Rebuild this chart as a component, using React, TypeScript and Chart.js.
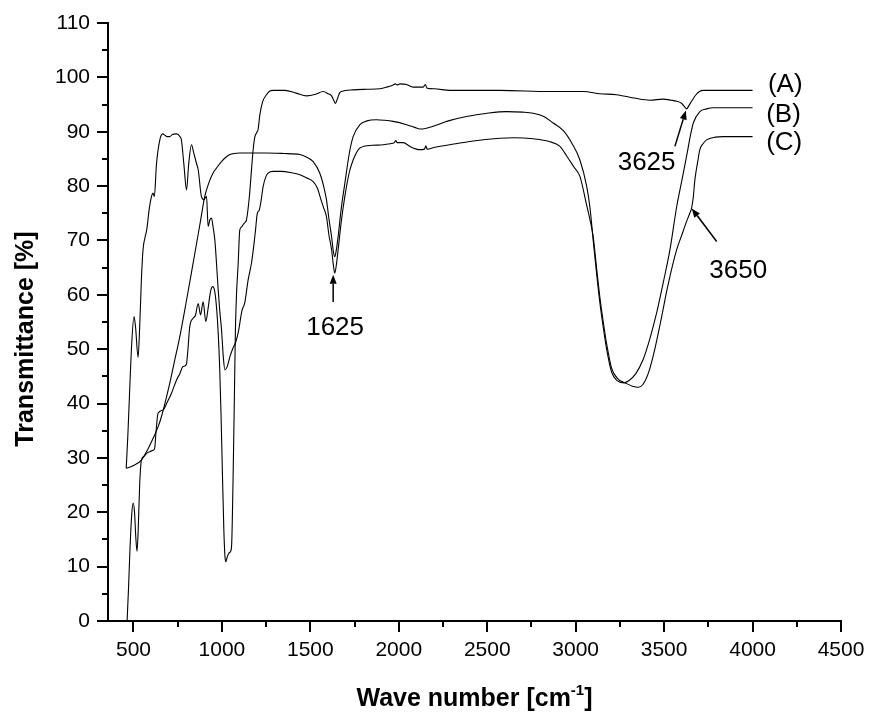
import React, { useEffect, useRef } from 'react';
import { Chart, registerables } from 'chart.js';

Chart.register(...registerables);

// ---- Data (wave number in cm^-1, transmittance in %) ----
const waveA = [464, 472, 480, 490, 498, 506, 513, 520, 527, 535, 545, 560, 573, 595, 611, 620, 628, 639, 667, 690, 715, 743, 762, 780, 799, 808, 818, 837, 850, 866, 879, 894, 909, 922, 935, 948, 960, 970, 979, 988, 995, 1003, 1011, 1017, 1022, 1030, 1040, 1049, 1055, 1063, 1070, 1076, 1082, 1092, 1101, 1112, 1120, 1130, 1139, 1155, 1176, 1186, 1196, 1205, 1214, 1230, 1252, 1271, 1290, 1356, 1420, 1478, 1530, 1572, 1600, 1620, 1632, 1642, 1652, 1665, 1676, 1742, 1818, 1893, 1940, 1968, 1980, 1990, 2006, 2044, 2081, 2138, 2150, 2160, 2200, 2289, 2572, 2854, 3043, 3137, 3231, 3330, 3420, 3495, 3540, 3571, 3600, 3615, 3627, 3640, 3655, 3680, 3700, 3721, 4000];
const transA = [0, 6, 13, 19.5, 21.7, 20, 15.5, 12.8, 17, 25, 29.6, 30.3, 30.8, 31.2, 31.4, 31.8, 35, 38.2, 38.8, 40.2, 41.9, 44.3, 45.5, 46.8, 47.2, 50, 54.1, 55.7, 56.2, 58.4, 56.3, 58.7, 55.1, 57.5, 60.5, 61.5, 60.5, 57.5, 53, 46, 38, 27, 16.7, 12, 10.9, 11.8, 12.5, 12.8, 14, 26, 40, 53, 59.7, 65.8, 71.9, 72.5, 72.9, 73.3, 73.8, 78, 86.5, 89, 89.8, 90.5, 93, 95.5, 96.8, 97.5, 97.6, 97.6, 97.1, 96.6, 96.9, 97.4, 97.0, 96.6, 95.8, 95.2, 96, 97.1, 97.4, 97.7, 97.8, 97.9, 98.3, 98.6, 98.8, 98.6, 98.8, 98.7, 98.2, 98.2, 98.7, 98.0, 97.9, 97.6, 97.6, 97.4, 97.4, 97.0, 96.8, 96.2, 95.8, 96.0, 95.8, 95.6, 95.2, 94.6, 94.2, 94.8, 95.6, 96.8, 97.4, 97.6, 97.6];

const waveB = [459, 500, 545, 583, 611, 639, 660, 700, 730, 762, 800, 830, 856, 880, 903, 925, 950, 969, 1000, 1045, 1100, 1250, 1350, 1441, 1480, 1516, 1553, 1575, 1591, 1605, 1620, 1630, 1638, 1647, 1657, 1675, 1695, 1720, 1742, 1780, 1820, 1874, 1920, 1968, 2044, 2090, 2119, 2150, 2194, 2280, 2383, 2500, 2609, 2700, 2760, 2820, 2873, 2930, 2980, 3024, 3062, 3081, 3099, 3118, 3137, 3156, 3175, 3203, 3235, 3270, 3300, 3340, 3380, 3420, 3460, 3500, 3533, 3571, 3600, 3627, 3650, 3665, 3702, 3740, 3778, 4000];
const transB = [28.1, 28.6, 29.6, 31.7, 33.6, 35.7, 37.8, 43, 47.5, 52.3, 59, 64.5, 69.3, 73.8, 78.1, 80.5, 82.4, 83.3, 84.6, 85.8, 86.1, 86.1, 86.0, 85.8, 85.3, 84.5, 82.4, 80, 77.5, 74, 70.7, 68, 67, 68.3, 70.7, 76, 80.5, 86, 89.1, 91.3, 92, 92.2, 92.1, 91.9, 91.3, 90.8, 90.5, 90.6, 91, 92, 92.8, 93.4, 93.7, 93.6, 93.4, 92.8, 91.6, 90.2, 87.8, 84.8, 80, 76, 70, 64, 58.5, 54, 50, 45.8, 44.2, 43.8, 44.2, 45.5, 48, 52, 57, 63, 68.3, 76.2, 81, 85.5, 89.5, 91.6, 93.7, 94.2, 94.4, 94.4];

const waveC = [459, 468, 478, 490, 503, 512, 526, 535, 545, 554, 565, 575, 590, 602, 610, 618, 630, 649, 665, 680, 690, 705, 720, 743, 763, 771, 785, 800, 812, 828, 840, 856, 866, 884, 898, 913, 922, 932, 941, 950, 960, 969, 979, 988, 998, 1008, 1017, 1030, 1045, 1060, 1080, 1095, 1107, 1114, 1129, 1148, 1167, 1180, 1190, 1200, 1210, 1220, 1233, 1248, 1261, 1290, 1337, 1400, 1441, 1480, 1516, 1540, 1560, 1575, 1591, 1605, 1620, 1630, 1638, 1647, 1657, 1675, 1695, 1720, 1742, 1780, 1850, 1912, 1950, 1975, 1983, 1990, 2025, 2063, 2100, 2119, 2145, 2153, 2160, 2200, 2289, 2400, 2572, 2650, 2760, 2850, 2911, 2950, 2990, 3024, 3062, 3081, 3099, 3118, 3137, 3156, 3175, 3203, 3240, 3280, 3320, 3354, 3380, 3410, 3440, 3480, 3520, 3571, 3600, 3627, 3645, 3655, 3665, 3674, 3690, 3702, 3720, 3740, 3790, 3834, 4000];
const transC = [28.1, 34, 42, 51, 56, 54, 48.5, 54, 63, 68.3, 70.5, 72, 76, 78.1, 78.7, 78.1, 84, 88.5, 89.6, 89.3, 89.1, 89.1, 89.5, 89.6, 89.1, 88.5, 84, 79.3, 84, 87.6, 86.2, 84.2, 83, 78.1, 77.5, 78.1, 72.6, 73.8, 74.1, 72.5, 70.1, 66, 60.9, 57, 53.5, 48.5, 46.2, 46.8, 48.6, 50, 51.5, 53.5, 56, 57.2, 58.5, 62.7, 65.8, 69, 71.9, 75, 75.5, 77, 79.9, 81.7, 82.4, 82.7, 82.7, 82.4, 82.1, 81.5, 80.8, 79.6, 77.5, 76, 74.4, 71, 68.3, 65.5, 64, 65.5, 68.3, 73.5, 78.1, 82.5, 84.8, 87, 87.5, 87.6, 87.8, 88, 88.4, 88, 88, 87.3, 86.8, 86.7, 86.8, 87.4, 86.8, 87.1, 87.6, 88.2, 88.8, 88.9, 88.7, 88.2, 87.3, 85.5, 83.5, 81.8, 76.5, 73.8, 70.7, 65, 59.5, 55, 51, 46.5, 44.5, 43.8, 43.2, 43, 43.5, 45.5, 49, 55, 61.5, 68.3, 71, 73.5, 75, 75.9, 78, 81.2, 84.5, 86.7, 87.8, 88.5, 89, 89.1, 89.1];

const seriesLabels = ['(A)', '(B)', '(C)'];
const xTickValues = [500, 1000, 1500, 2000, 2500, 3000, 3500, 4000, 4500];
const yTickValues = [0, 10, 20, 30, 40, 50, 60, 70, 80, 90, 100, 110];
const xMinorTicks = [750, 1250, 1750, 2250, 2750, 3250, 3750, 4250];
const yMinorTicks = [5, 15, 25, 35, 45, 55, 65, 75, 85, 95, 105];
const xTitle = 'Wave number [cm';
const xTitleSup = '-1';
const xTitleEnd = ']';
const yTitle = 'Transmittance [%]';
const peakLabels = ['1625', '3625', '3650'];

const FONT = '"Liberation Sans", Arial, Helvetica, sans-serif';

function toPoints(xs: number[], ys: number[]) {
  return xs.map((x, i) => ({ x, y: ys[i] }));
}

function arrow(ctx: CanvasRenderingContext2D, x0: number, y0: number, x1: number, y1: number) {
  const ang = Math.atan2(y1 - y0, x1 - x0);
  const hl = 9;
  const hw = 3.5;
  const bx = x1 - hl * Math.cos(ang);
  const by = y1 - hl * Math.sin(ang);
  ctx.beginPath();
  ctx.moveTo(x0, y0);
  ctx.lineTo(bx, by);
  ctx.lineWidth = 1.5;
  ctx.stroke();
  ctx.beginPath();
  ctx.moveTo(x1, y1);
  ctx.lineTo(bx + hw * Math.sin(ang), by - hw * Math.cos(ang));
  ctx.lineTo(bx - hw * Math.sin(ang), by + hw * Math.cos(ang));
  ctx.closePath();
  ctx.fill();
}

const decorations = {
  id: 'decorations',
  afterDraw(chart: any) {
    const { ctx, chartArea, scales } = chart;
    const xs = scales.x;
    const ys = scales.y;
    const px = (v: number) => xs.getPixelForValue(v);
    const py = (v: number) => ys.getPixelForValue(v);
    ctx.save();
    ctx.strokeStyle = '#000';
    ctx.fillStyle = '#000';

    // minor ticks
    ctx.lineWidth = 2;
    ctx.beginPath();
    xMinorTicks.forEach((v) => {
      const x = Math.round(px(v));
      ctx.moveTo(x, chartArea.bottom);
      ctx.lineTo(x, chartArea.bottom + 6);
    });
    yMinorTicks.forEach((v) => {
      const y = Math.round(py(v));
      ctx.moveTo(chartArea.left - 6, y);
      ctx.lineTo(chartArea.left, y);
    });
    ctx.stroke();

    // axis titles
    ctx.font = `bold 25px ${FONT}`;
    ctx.textBaseline = 'alphabetic';
    const w1 = ctx.measureText(xTitle).width;
    ctx.font = `bold 15px ${FONT}`;
    const w2 = ctx.measureText(xTitleSup).width;
    ctx.font = `bold 25px ${FONT}`;
    const w3 = ctx.measureText(xTitleEnd).width;
    const total = w1 + w2 + w3;
    let tx = (chartArea.left + chartArea.right) / 2 - total / 2;
    const tyBase = chartArea.bottom + 85;
    ctx.textAlign = 'left';
    ctx.fillText(xTitle, tx, tyBase);
    tx += w1;
    ctx.font = `bold 15px ${FONT}`;
    ctx.fillText(xTitleSup, tx, tyBase - 11);
    tx += w2;
    ctx.font = `bold 25px ${FONT}`;
    ctx.fillText(xTitleEnd, tx, tyBase);

    ctx.save();
    ctx.translate(chartArea.left - 75, (chartArea.top + chartArea.bottom) / 2 + 17);
    ctx.rotate(-Math.PI / 2);
    ctx.textAlign = 'center';
    ctx.fillText(yTitle, 0, 0);
    ctx.restore();

    // series labels
    ctx.font = `26px ${FONT}`;
    ctx.textAlign = 'left';
    ctx.textBaseline = 'middle';
    ctx.fillText(seriesLabels[0], px(4087), py(98.7));
    ctx.fillText(seriesLabels[1], px(4077), py(93.2));
    ctx.fillText(seriesLabels[2], px(4077), py(87.9));

    // peak annotations
    ctx.textAlign = 'center';
    ctx.textBaseline = 'alphabetic';
    ctx.fillText(peakLabels[0], px(1640), py(52.6));
    arrow(ctx, px(1629), py(58.7), px(1629), py(63.7));
    ctx.fillText(peakLabels[1], px(3401), py(83));
    arrow(ctx, px(3561), py(87.3), px(3623), py(93.9));
    ctx.fillText(peakLabels[2], px(3919), py(63.1));
    arrow(ctx, px(3797), py(69.8), px(3656), py(75.9));

    ctx.restore();
  },
};

export default function App() {
  const canvasRef = useRef<HTMLCanvasElement | null>(null);

  useEffect(() => {
    document.body.style.margin = '0';
    const canvas = canvasRef.current;
    if (!canvas) return;
    const lineDs = (label: string, xs: number[], ys: number[]) => ({
      label,
      data: toPoints(xs, ys),
      borderColor: '#000',
      borderWidth: 1.1,
      pointRadius: 0,
      fill: false,
      cubicInterpolationMode: 'monotone' as const,
    });
    const chart = new Chart(canvas, {
      type: 'line',
      data: {
        datasets: [
          lineDs(seriesLabels[0], waveA, transA),
          lineDs(seriesLabels[1], waveB, transB),
          lineDs(seriesLabels[2], waveC, transC),
        ],
      },
      options: {
        responsive: false,
        animation: false,
        parsing: false as any,
        layout: { padding: { left: 0, right: 30, top: 23, bottom: 0 } },
        plugins: {
          legend: { display: false },
          tooltip: { enabled: false },
          title: { display: false },
        },
        scales: {
          x: {
            type: 'linear',
            min: 356,
            max: 4500,
            afterBuildTicks: (s: any) => {
              s.ticks = xTickValues.map((v) => ({ value: v }));
            },
            afterFit: (s: any) => {
              s.height = 94;
            },
            grid: { drawOnChartArea: false, drawTicks: true, tickLength: 11, lineWidth: 2, color: '#000' },
            border: { display: true, color: '#000', width: 2 },
            ticks: {
              autoSkip: false,
              maxRotation: 0,
              padding: 6,
              color: '#000',
              font: { family: FONT, size: 21 },
              callback: (v: any) => String(v),
            },
          },
          y: {
            type: 'linear',
            min: 0,
            max: 110,
            afterBuildTicks: (s: any) => {
              s.ticks = yTickValues.map((v) => ({ value: v }));
            },
            afterFit: (s: any) => {
              s.width = 108;
            },
            grid: { drawOnChartArea: false, drawTicks: true, tickLength: 11, lineWidth: 2, color: '#000' },
            border: { display: true, color: '#000', width: 2 },
            ticks: {
              autoSkip: false,
              padding: 7,
              color: '#000',
              font: { family: FONT, size: 21 },
              callback: (v: any) => String(v),
            },
          },
        },
      },
      plugins: [decorations],
    });
    return () => chart.destroy();
  }, []);

  return (
    <div style={{ width: 871, height: 715, background: '#fff' }}>
      <canvas ref={canvasRef} width={871} height={715} style={{ display: 'block' }} />
    </div>
  );
}
